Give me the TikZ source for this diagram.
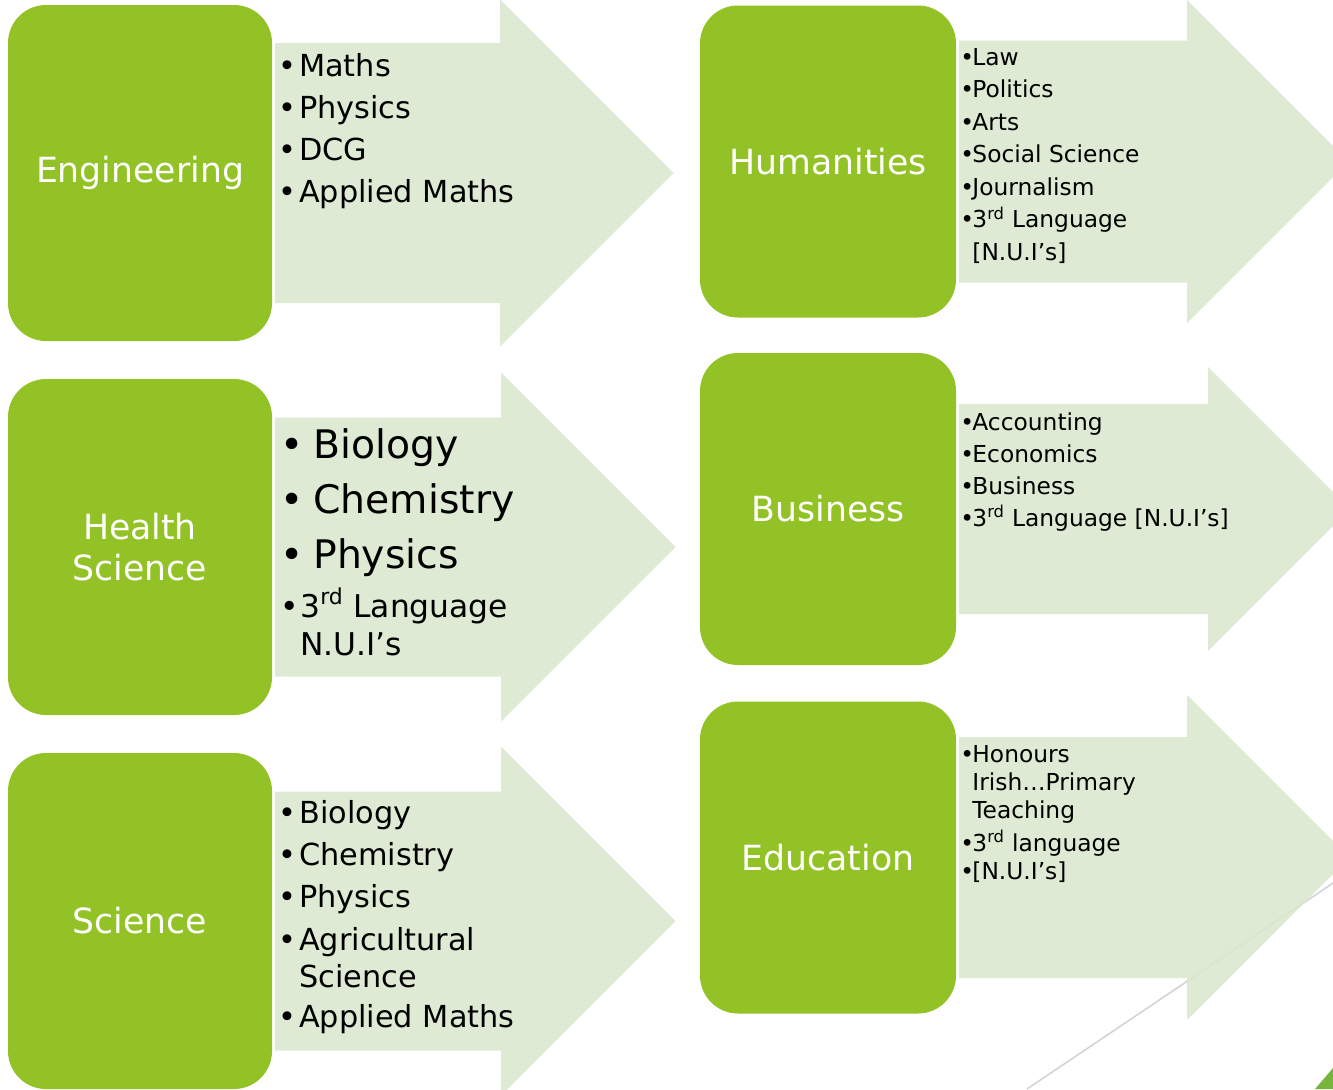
\documentclass[tikz,border=0pt]{standalone}
\usepackage{fontspec}
\setmainfont{DejaVu Sans}
\usetikzlibrary{calc}
\definecolor{boxgreen}{RGB}{146,194,38}
\definecolor{arrowgreen}{RGB}{218,232,206}
\definecolor{cornergreen}{RGB}{118,180,60}
\definecolor{themegrey}{RGB}{212,212,212}
\tikzstyle{catbox}=[rectangle,rounded corners=28.5pt,fill=boxgreen,text=white,align=center,outer sep=0pt,inner sep=0pt,font=\fontsize{26}{31}\selectfont]
\tikzstyle{lbox}=[catbox,minimum width=198pt,minimum height=252pt]
\tikzstyle{rbox}=[catbox,minimum width=192pt,minimum height=234pt]
\tikzstyle{items}=[anchor=base west,inner sep=0pt,text=black]
\tikzstyle{bigarrow}=[fill=arrowgreen,fill opacity=0.9]
\newcommand{\lst}[1]{\begin{tabular}[t]{@{}l@{}}#1\end{tabular}}
\newcommand{\bl}[1][0.69em]{\makebox[#1][l]{\textbullet}}
\newcommand{\ind}[1][0.69em]{\hspace*{#1}}
\newcommand{\sm}{\fontsize{23.5}{28.5}\selectfont}
\newcommand{\flow}[4]{\path[bigarrow] ($(#1.east)+(3,-#2)$) -- ++(#3,0) -- ++(0,{-(#4-#2)})
  -- ++(#4,#4) -- ++(-#4,#4) -- ++(0,{-(#4-#2)}) -- ++(-#3,0) -- cycle;}
\begin{document}
\begin{tikzpicture}[x=0.75pt,y=-0.75pt]
  \useasboundingbox (0,0) rectangle (1333,1089);
  \clip (0,0) rectangle (1333,1089);

  \coordinate (line-a) at (1400,838);
  \coordinate (line-b) at (1027,1089);
  \draw[themegrey,line width=1.2pt] (line-a) -- (line-b);
  \fill[cornergreen] (1315,1089) -- (1333,1068) -- (1333,1089) -- cycle;

  \node[lbox] (eng) at (140,173)   {Engineering};
  \node[lbox] (hea) at (140,547)   {Health\\Science};
  \node[lbox] (sci) at (140,921)   {Science};
  \node[rbox] (hum) at (828,161.5) {Humanities};
  \node[rbox] (bus) at (828,509)   {Business};
  \node[rbox] (edu) at (828,857.5) {Education};

  \flow{eng}{130}{225}{173.5}
  \flow{hea}{129.5}{226}{174.5}
  \flow{sci}{129.5}{226}{174.5}
  \flow{hum}{121}{228}{161.5}
  \flow{bus}{105}{249}{142}
  \flow{edu}{120.5}{228}{162.5}

  \node[items,font=\fontsize{22.75}{31.5}\selectfont] (eng-list) at (278,76)
    {\lst{\bl Maths\\ \bl Physics\\ \bl DCG\\ \bl Applied Maths}};
  \node[items,font=\fontsize{29.5}{41.25}\selectfont] (hea-list) at (280,458)
    {\lst{\bl[0.84em]Biology\\ \bl[0.84em]Chemistry\\ \bl[0.84em]Physics\\[-4.5pt]
      \sm\bl[0.64em]3\textsuperscript{rd} Language\\[-12.75pt] \sm\ind[0.64em]N.U.I’s}};
  \node[items,font=\fontsize{22.75}{31.75}\selectfont] (sci-list) at (278,823)
    {\lst{\bl Biology\\ \bl Chemistry\\ \bl Physics\\ \bl Agricultural\\[-4pt]
      \ind Science\\[-1.75pt] \bl Applied Maths}};
  \node[items,font=\fontsize{17.5}{24.4}\selectfont] (hum-list) at (960,65)
    {\lst{\bl[0.52em]Law\\ \bl[0.52em]Politics\\ \bl[0.52em]Arts\\ \bl[0.52em]Social Science\\
      \bl[0.52em]Journalism\\ \bl[0.52em]3\textsuperscript{rd} Language\\ \ind[0.52em]{[N.U.I’s]}}};
  \node[items,font=\fontsize{17.5}{24}\selectfont] (bus-list) at (960,430)
    {\lst{\bl[0.52em]Accounting\\ \bl[0.52em]Economics\\ \bl[0.52em]Business\\
      \bl[0.52em]3\textsuperscript{rd} Language [N.U.I’s]}};
  \node[items,font=\fontsize{17.5}{21}\selectfont] (edu-list) at (960,762)
    {\lst{\bl[0.52em]Honours\\ \ind[0.52em]Irish…Primary\\ \ind[0.52em]Teaching\\[3pt]
      \bl[0.52em]3\textsuperscript{rd} language\\ \bl[0.52em]{[N.U.I’s]}}};
\end{tikzpicture}
\end{document}
